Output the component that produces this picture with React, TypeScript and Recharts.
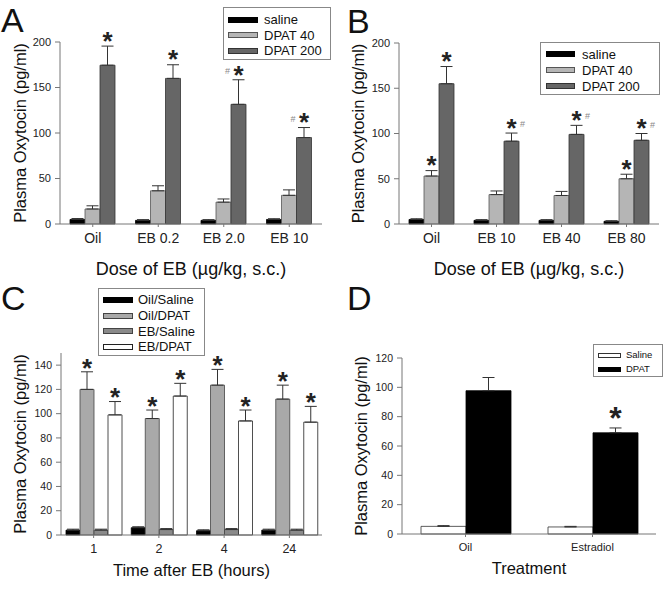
import React from 'react';
import { BarChart, Bar, XAxis, YAxis, ErrorBar, LabelList, Legend, Label } from 'recharts';

const FONT = '"Liberation Sans", Arial, Helvetica, sans-serif';

// A: dose of EB, three DPAT groups
const dosesA = ['Oil', 'EB 0.2', 'EB 2.0', 'EB 10'];
const salineA = [5, 4, 4, 5];
const salineErrA = [1, 0.8, 0.8, 0.8];
const dpat40A = [16.5, 36.5, 24, 31.5];
const dpat40ErrA = [3.5, 5.5, 3.5, 6];
const dpat200A = [174.5, 160, 131.5, 95];
const dpat200ErrA = [21, 15, 27, 11];
const marks200A = ['*', '*', '#*', '#*'];

// B
const dosesB = ['Oil', 'EB 10', 'EB 40', 'EB 80'];
const salineB = [5, 4, 4, 3];
const salineErrB = [0.8, 0.8, 0.8, 0.6];
const dpat40B = [53, 32.5, 31.5, 50];
const dpat40ErrB = [6, 4, 4.5, 5];
const dpat200B = [155, 91.5, 99, 92.5];
const dpat200ErrB = [19, 9, 10, 7.5];
const marks40B = ['*', '', '', '*'];
const marks200B = ['*', '*#', '*#', '*#'];

// C: time after EB
const hoursC = ['1', '2', '4', '24'];
const oilSalineC = [4, 6, 3.5, 4];
const oilSalineErrC = [0.8, 0.8, 0.8, 0.8];
const oilDpatC = [120, 96, 123.5, 112];
const oilDpatErrC = [14.5, 7, 13, 11.5];
const ebSalineC = [4, 4.5, 4.5, 4];
const ebSalineErrC = [0.8, 0.8, 0.8, 0.8];
const ebDpatC = [99, 114.5, 94, 93];
const ebDpatErrC = [11, 10.5, 9, 13];
const marksOilDpatC = ['*', '*', '*', '*'];
const marksEbDpatC = ['*', '*', '*', '*'];

// D: treatment
const treatD = ['Oil', 'Estradiol'];
const salineD = [5.2, 4.8];
const salineErrD = [0.5, 0.4];
const dpatD = [97.7, 69];
const dpatErrD = [9, 3.3];
const marksDpatD = ['', '*'];

type Series = {
  name: string;
  values: number[];
  errs: number[];
  fill: string;
  stroke: string;
  marks?: string[];
};

const makeRows = (cats: string[], series: Series[]) =>
  cats.map((c, i) => {
    const row: any = { cat: c };
    series.forEach((s, k) => {
      row[`v${k}`] = s.values[i];
      row[`e${k}`] = [0, s.errs[i]];
    });
    return row;
  });

const markLabel = (s: Series, starSize: number, gap: number) => (props: any) => {
  const box = props.viewBox && props.viewBox.width != null ? props.viewBox : props;
  const { x, y, width, height } = box;
  const index = props.index;
  const mark = s.marks?.[index];
  if (!mark) return null;
  const v = s.values[index];
  const top = y + height - ((v + s.errs[index]) * height) / v;
  const cx = x + width / 2;
  const cy = top - gap;
  const hash = mark.indexOf('#');
  return (
    <g key={`m-${index}`}>
      <text
        x={cx}
        y={cy + starSize * 0.49}
        textAnchor='middle'
        fontSize={starSize}
        fontWeight='bold'
        fontFamily={FONT}
        fill='#222'>
        *
      </text>
      {hash >= 0 && (
        <text x={cx + (hash === 0 ? -11 : 11)} y={cy + 3} textAnchor='middle' fontSize={9} fontFamily={FONT} fill='#888'>
          #
        </text>
      )}
    </g>
  );
};

type LegendBox = { left: number; top: number; width: number; rowH: number; pad: string; fontSize: number; symW: number; symH: number; symGap: number };

const legendContent = (series: Series[], lb: LegendBox) => () => (
  <div
    style={{
      border: '1px solid #888',
      background: '#fff',
      width: lb.width,
      padding: lb.pad,
      boxSizing: 'border-box',
      fontFamily: FONT,
      fontSize: lb.fontSize,
      color: '#111',
      lineHeight: 1,
    }}>
    {series.map((s) => (
      <div key={s.name} style={{ display: 'flex', alignItems: 'center', height: lb.rowH }}>
        <span
          style={{
            display: 'inline-block',
            width: lb.symW,
            height: lb.symH,
            background: s.fill,
            border: `1px solid ${s.stroke}`,
            boxSizing: 'border-box',
            marginRight: lb.symGap,
          }}
        />
        <span>{s.name}</span>
      </div>
    ))}
  </div>
);

type PanelProps = {
  left: number;
  top: number;
  height: number;
  cats: string[];
  series: Series[];
  domain: [number, number];
  ticks: number[];
  margin: { top: number; right: number; bottom: number; left: number };
  yWidth: number;
  barSize: number;
  yTickSize: number;
  xTickSize: number;
  yTitle: string;
  yTitleOffset: number;
  xTitle: string;
  xTitleSize: number;
  xTitleOffset: number;
  legend: LegendBox;
  starSize: number;
  starGap: number;
};

const Panel = (p: PanelProps) => {
  const rows = makeRows(p.cats, p.series);
  return (
    <div style={{ position: 'absolute', left: p.left, top: p.top }}>
      <BarChart width={334} height={p.height} data={rows} margin={p.margin} barGap={0}>
        <XAxis
          dataKey='cat'
          height={50}
          stroke='#777'
          tickSize={3}
          tickMargin={6}
          tick={{ fill: '#222', fontSize: p.xTickSize, fontFamily: FONT }}>
          <Label
            value={p.xTitle}
            position='insideTop'
            offset={p.xTitleOffset}
            style={{ fill: '#111', fontSize: p.xTitleSize, fontFamily: FONT }}
          />
        </XAxis>
        <YAxis
          width={p.yWidth}
          domain={p.domain}
          ticks={p.ticks}
          stroke='#777'
          tickSize={5}
          tickMargin={4}
          tick={{ fill: '#222', fontSize: p.yTickSize, fontFamily: FONT }}>
          <Label
            value={p.yTitle}
            angle={-90}
            position='insideLeft'
            offset={p.yTitleOffset}
            style={{ textAnchor: 'middle', fill: '#111', fontSize: 16.5, fontFamily: FONT }}
          />
        </YAxis>
        <Legend
          layout='horizontal'
          verticalAlign='middle'
          align='center'
          wrapperStyle={{ left: p.legend.left, top: p.legend.top, width: p.legend.width }}
          content={legendContent(p.series, p.legend)}
        />
        {p.series.map((s, k) => (
          <Bar
            key={s.name}
            dataKey={`v${k}`}
            name={s.name}
            fill={s.fill}
            stroke={s.stroke}
            strokeWidth={0.8}
            barSize={p.barSize}
            isAnimationActive={false}>
            <ErrorBar dataKey={`e${k}`} width={6} stroke='#333' strokeWidth={1} />
            {s.marks && <LabelList dataKey={`v${k}`} content={markLabel(s, p.starSize, p.starGap)} />}
          </Bar>
        ))}
      </BarChart>
    </div>
  );
};

const seriesA: Series[] = [
  { name: 'saline', values: salineA, errs: salineErrA, fill: '#000', stroke: '#000' },
  { name: 'DPAT 40', values: dpat40A, errs: dpat40ErrA, fill: '#b5b5b5', stroke: '#555' },
  { name: 'DPAT 200', values: dpat200A, errs: dpat200ErrA, fill: '#666', stroke: '#333', marks: marks200A },
];
const seriesB: Series[] = [
  { name: 'saline', values: salineB, errs: salineErrB, fill: '#000', stroke: '#000' },
  { name: 'DPAT 40', values: dpat40B, errs: dpat40ErrB, fill: '#b5b5b5', stroke: '#555', marks: marks40B },
  { name: 'DPAT 200', values: dpat200B, errs: dpat200ErrB, fill: '#666', stroke: '#333', marks: marks200B },
];
const seriesC: Series[] = [
  { name: 'Oil/Saline', values: oilSalineC, errs: oilSalineErrC, fill: '#000', stroke: '#000' },
  { name: 'Oil/DPAT', values: oilDpatC, errs: oilDpatErrC, fill: '#a9a9a9', stroke: '#444', marks: marksOilDpatC },
  { name: 'EB/Saline', values: ebSalineC, errs: ebSalineErrC, fill: '#8a8a8a', stroke: '#444' },
  { name: 'EB/DPAT', values: ebDpatC, errs: ebDpatErrC, fill: '#fff', stroke: '#222', marks: marksEbDpatC },
];
const seriesD: Series[] = [
  { name: 'Saline', values: salineD, errs: salineErrD, fill: '#fff', stroke: '#333' },
  { name: 'DPAT', values: dpatD, errs: dpatErrD, fill: '#000', stroke: '#000', marks: marksDpatD },
];

const yTitle = 'Plasma Oxytocin (pg/ml)';
const doseTitle = 'Dose of EB (\u00b5g/kg, s.c.)';

export default function App() {
  return (
    <div style={{ position: 'absolute', left: 0, top: 0, width: 668, height: 590, background: '#fff', fontFamily: FONT }}>
      <Panel
        left={0}
        top={0}
        height={295}
        cats={dosesA}
        series={seriesA}
        domain={[0, 200]}
        ticks={[0, 50, 100, 150, 200]}
        margin={{ top: 42, right: 12, bottom: 21, left: 0 }}
        yWidth={60}
        barSize={15}
        yTickSize={11}
        xTickSize={14}
        yTitle={yTitle}
        yTitleOffset={20}
        xTitle={doseTitle}
        xTitleSize={18}
        xTitleOffset={38}
        legend={{ left: 223, top: 7, width: 108, rowH: 15.5, pad: '4px 0 0 4px', fontSize: 13, symW: 30, symH: 6, symGap: 6 }}
        starSize={26}
        starGap={9}
      />
      <Panel
        left={334}
        top={0}
        height={295}
        cats={dosesB}
        series={seriesB}
        domain={[0, 200]}
        ticks={[0, 50, 100, 150, 200]}
        margin={{ top: 43, right: 9, bottom: 21, left: 0 }}
        yWidth={65}
        barSize={15}
        yTickSize={11}
        xTickSize={14}
        yTitle={yTitle}
        yTitleOffset={24.5}
        xTitle={doseTitle}
        xTitleSize={18}
        xTitleOffset={38}
        legend={{ left: 206, top: 42, width: 120, rowH: 16, pad: '3px 0 0 5px', fontSize: 13, symW: 29, symH: 6, symGap: 7 }}
        starSize={26}
        starGap={9}
      />
      <Panel
        left={0}
        top={275}
        height={315}
        cats={hoursC}
        series={seriesC}
        domain={[0, 150]}
        ticks={[0, 20, 40, 60, 80, 100, 120, 140]}
        margin={{ top: 78, right: 12, bottom: 5, left: 0 }}
        yWidth={61}
        barSize={14}
        yTickSize={10.5}
        xTickSize={12.5}
        yTitle={yTitle}
        yTitleOffset={20}
        xTitle='Time after EB (hours)'
        xTitleSize={16.5}
        xTitleOffset={29}
        legend={{ left: 98, top: 13, width: 107, rowH: 15.7, pad: '3px 0 0 4px', fontSize: 13, symW: 30, symH: 6, symGap: 5 }}
        starSize={26}
        starGap={8}
      />
      <Panel
        left={334}
        top={275}
        height={315}
        cats={treatD}
        series={seriesD}
        domain={[0, 120]}
        ticks={[0, 20, 40, 60, 80, 100, 120]}
        margin={{ top: 83, right: 12, bottom: 6, left: 0 }}
        yWidth={68}
        barSize={45}
        yTickSize={10.5}
        xTickSize={11}
        yTitle={yTitle}
        yTitleOffset={27.5}
        xTitle='Treatment'
        xTitleSize={16.5}
        xTitleOffset={28}
        legend={{ left: 259, top: 69, width: 70, rowH: 14, pad: '3px 0 0 4px', fontSize: 9.5, symW: 23, symH: 5, symGap: 5 }}
        starSize={32}
        starGap={15}
      />
      <svg width={668} height={590} style={{ position: 'absolute', left: 0, top: 0, pointerEvents: 'none' }}>
        <text x={1} y={32} fontSize={34} fontFamily={FONT} fill='#111'>A</text>
        <text x={347} y={33} fontSize={34} fontFamily={FONT} fill='#111'>B</text>
        <text x={1} y={310} fontSize={34} fontFamily={FONT} fill='#111'>C</text>
        <text x={347} y={310} fontSize={34} fontFamily={FONT} fill='#111'>D</text>
      </svg>
    </div>
  );
}
